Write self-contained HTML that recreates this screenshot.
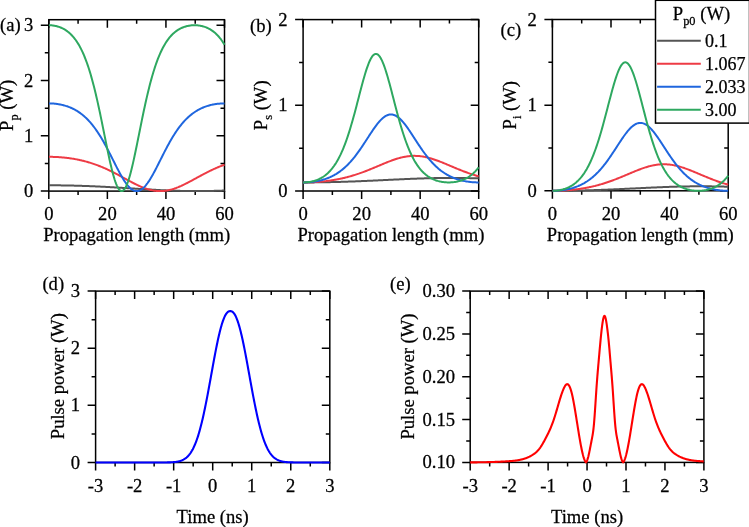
<!DOCTYPE html>
<html><head><meta charset="utf-8"><style>
html,body{margin:0;padding:0;background:#fff;}
svg{display:block;will-change:transform;}
text{font-family:"Liberation Serif", serif;fill:#000;stroke:#000;stroke-width:0.25px;}
</style></head><body>
<svg width="749" height="527" viewBox="0 0 749 527">
<rect width="749" height="527" fill="#fff"/>
<clipPath id="clipa"><rect x="48.8" y="16.7" width="177.2" height="175.9"/></clipPath>
<rect x="48.8" y="19.7" width="175.70" height="171.40" fill="none" stroke="#000" stroke-width="1.5"/>
<path d="M48.80,191.1v8M48.80,19.7v8M107.37,191.1v8M107.37,19.7v8M165.93,191.1v8M165.93,19.7v8M224.50,191.1v8M224.50,19.7v8M78.08,191.1v4M78.08,19.7v4M136.65,191.1v4M136.65,19.7v4M195.22,191.1v4M195.22,19.7v4M48.8,191.10h-8M224.5,191.10h-8M48.8,135.81h-8M224.5,135.81h-8M48.8,80.52h-8M224.5,80.52h-8M48.8,25.23h-8M224.5,25.23h-8M48.8,163.45h-4M224.5,163.45h-4M48.8,108.16h-4M224.5,108.16h-4M48.8,52.87h-4M224.5,52.87h-4" stroke="#000" stroke-width="1.5" fill="none"/>
<polyline points="48.80,185.29 49.53,185.29 50.26,185.30 51.00,185.30 51.73,185.30 52.46,185.30 53.19,185.30 53.92,185.31 54.66,185.31 55.39,185.32 56.12,185.32 56.85,185.33 57.58,185.33 58.32,185.34 59.05,185.35 59.78,185.36 60.51,185.37 61.25,185.38 61.98,185.39 62.71,185.40 63.44,185.41 64.17,185.42 64.91,185.43 65.64,185.44 66.37,185.46 67.10,185.47 67.83,185.48 68.57,185.50 69.30,185.51 70.03,185.53 70.76,185.55 71.49,185.56 72.23,185.58 72.96,185.60 73.69,185.62 74.42,185.64 75.16,185.65 75.89,185.67 76.62,185.70 77.35,185.72 78.08,185.74 78.82,185.76 79.55,185.78 80.28,185.81 81.01,185.83 81.74,185.85 82.48,185.88 83.21,185.90 83.94,185.93 84.67,185.96 85.40,185.98 86.14,186.01 86.87,186.04 87.60,186.07 88.33,186.09 89.06,186.12 89.80,186.15 90.53,186.18 91.26,186.21 91.99,186.24 92.72,186.28 93.46,186.31 94.19,186.34 94.92,186.37 95.65,186.41 96.39,186.44 97.12,186.47 97.85,186.51 98.58,186.54 99.31,186.58 100.05,186.61 100.78,186.65 101.51,186.69 102.24,186.72 102.97,186.76 103.71,186.80 104.44,186.83 105.17,186.87 105.90,186.91 106.63,186.95 107.37,186.99 108.10,187.03 108.83,187.07 109.56,187.11 110.29,187.15 111.03,187.19 111.76,187.23 112.49,187.27 113.22,187.31 113.96,187.36 114.69,187.40 115.42,187.44 116.15,187.48 116.88,187.53 117.62,187.57 118.35,187.61 119.08,187.66 119.81,187.70 120.54,187.75 121.28,187.79 122.01,187.83 122.74,187.88 123.47,187.92 124.20,187.97 124.94,188.01 125.67,188.06 126.40,188.10 127.13,188.15 127.86,188.19 128.60,188.24 129.33,188.28 130.06,188.33 130.79,188.38 131.53,188.42 132.26,188.47 132.99,188.51 133.72,188.56 134.45,188.60 135.19,188.65 135.92,188.69 136.65,188.74 137.38,188.79 138.11,188.83 138.85,188.88 139.58,188.92 140.31,188.97 141.04,189.01 141.77,189.06 142.51,189.10 143.24,189.14 143.97,189.19 144.70,189.23 145.44,189.28 146.17,189.32 146.90,189.36 147.63,189.41 148.36,189.45 149.10,189.49 149.83,189.53 150.56,189.58 151.29,189.62 152.02,189.66 152.76,189.70 153.49,189.74 154.22,189.78 154.95,189.82 155.68,189.86 156.42,189.90 157.15,189.94 157.88,189.98 158.61,190.02 159.34,190.05 160.08,190.09 160.81,190.13 161.54,190.16 162.27,190.20 163.00,190.23 163.74,190.27 164.47,190.30 165.20,190.33 165.93,190.37 166.67,190.40 167.40,190.43 168.13,190.46 168.86,190.49 169.59,190.52 170.33,190.55 171.06,190.58 171.79,190.61 172.52,190.63 173.25,190.66 173.99,190.69 174.72,190.71 175.45,190.73 176.18,190.76 176.91,190.78 177.65,190.80 178.38,190.82 179.11,190.85 179.84,190.87 180.57,190.88 181.31,190.90 182.04,190.92 182.77,190.94 183.50,190.95 184.24,190.97 184.97,190.98 185.70,191.00 186.43,191.01 187.16,191.02 187.90,191.03 188.63,191.04 189.36,191.05 190.09,191.06 190.82,191.07 191.56,191.08 192.29,191.08 193.02,191.09 193.75,191.09 194.48,191.09 195.22,191.10 195.95,191.10 196.68,191.10 197.41,191.10 198.14,191.10 198.88,191.10 199.61,191.10 200.34,191.09 201.07,191.09 201.81,191.08 202.54,191.08 203.27,191.07 204.00,191.06 204.73,191.05 205.47,191.04 206.20,191.03 206.93,191.02 207.66,191.01 208.39,191.00 209.13,190.99 209.86,190.97 210.59,190.96 211.32,190.94 212.05,190.92 212.79,190.91 213.52,190.89 214.25,190.87 214.98,190.85 215.71,190.83 216.45,190.81 217.18,190.79 217.91,190.76 218.64,190.74 219.38,190.72 220.11,190.69 220.84,190.67 221.57,190.64 222.30,190.61 223.04,190.59 223.77,190.56 224.50,190.53" fill="none" stroke="#555555" stroke-width="2.0" stroke-linejoin="round" clip-path="url(#clipa)"/>
<polyline points="48.80,156.82 49.53,156.82 50.26,156.83 51.00,156.84 51.73,156.85 52.46,156.86 53.19,156.88 53.92,156.90 54.66,156.93 55.39,156.96 56.12,156.99 56.85,157.03 57.58,157.07 58.32,157.11 59.05,157.15 59.78,157.20 60.51,157.26 61.25,157.32 61.98,157.38 62.71,157.44 63.44,157.51 64.17,157.58 64.91,157.65 65.64,157.73 66.37,157.82 67.10,157.90 67.83,157.99 68.57,158.09 69.30,158.19 70.03,158.29 70.76,158.39 71.49,158.50 72.23,158.62 72.96,158.74 73.69,158.86 74.42,158.98 75.16,159.11 75.89,159.25 76.62,159.39 77.35,159.53 78.08,159.68 78.82,159.83 79.55,159.99 80.28,160.15 81.01,160.31 81.74,160.48 82.48,160.66 83.21,160.83 83.94,161.02 84.67,161.21 85.40,161.40 86.14,161.60 86.87,161.80 87.60,162.01 88.33,162.22 89.06,162.43 89.80,162.66 90.53,162.88 91.26,163.11 91.99,163.35 92.72,163.59 93.46,163.84 94.19,164.09 94.92,164.35 95.65,164.61 96.39,164.87 97.12,165.14 97.85,165.42 98.58,165.70 99.31,165.99 100.05,166.28 100.78,166.58 101.51,166.88 102.24,167.18 102.97,167.49 103.71,167.81 104.44,168.13 105.17,168.45 105.90,168.78 106.63,169.12 107.37,169.46 108.10,169.80 108.83,170.15 109.56,170.50 110.29,170.85 111.03,171.21 111.76,171.58 112.49,171.94 113.22,172.31 113.96,172.69 114.69,173.06 115.42,173.44 116.15,173.83 116.88,174.21 117.62,174.60 118.35,174.99 119.08,175.38 119.81,175.78 120.54,176.17 121.28,176.57 122.01,176.97 122.74,177.37 123.47,177.77 124.20,178.17 124.94,178.57 125.67,178.97 126.40,179.37 127.13,179.77 127.86,180.16 128.60,180.56 129.33,180.95 130.06,181.34 130.79,181.73 131.53,182.12 132.26,182.50 132.99,182.88 133.72,183.26 134.45,183.63 135.19,183.99 135.92,184.35 136.65,184.71 137.38,185.06 138.11,185.40 138.85,185.74 139.58,186.07 140.31,186.39 141.04,186.71 141.77,187.01 142.51,187.31 143.24,187.60 143.97,187.88 144.70,188.15 145.44,188.41 146.17,188.66 146.90,188.90 147.63,189.12 148.36,189.34 149.10,189.55 149.83,189.74 150.56,189.92 151.29,190.09 152.02,190.25 152.76,190.39 153.49,190.52 154.22,190.64 154.95,190.75 155.68,190.84 156.42,190.92 157.15,190.98 157.88,191.03 158.61,191.07 159.34,191.09 160.08,191.10 160.81,191.09 161.54,191.08 162.27,191.04 163.00,191.00 163.74,190.94 164.47,190.86 165.20,190.77 165.93,190.67 166.67,190.56 167.40,190.43 168.13,190.29 168.86,190.14 169.59,189.97 170.33,189.79 171.06,189.60 171.79,189.40 172.52,189.19 173.25,188.96 173.99,188.73 174.72,188.48 175.45,188.22 176.18,187.96 176.91,187.68 177.65,187.39 178.38,187.10 179.11,186.79 179.84,186.48 180.57,186.16 181.31,185.84 182.04,185.50 182.77,185.16 183.50,184.81 184.24,184.46 184.97,184.10 185.70,183.73 186.43,183.36 187.16,182.99 187.90,182.61 188.63,182.23 189.36,181.84 190.09,181.46 190.82,181.07 191.56,180.67 192.29,180.28 193.02,179.88 193.75,179.48 194.48,179.08 195.22,178.68 195.95,178.28 196.68,177.88 197.41,177.48 198.14,177.08 198.88,176.68 199.61,176.29 200.34,175.89 201.07,175.50 201.81,175.10 202.54,174.71 203.27,174.32 204.00,173.94 204.73,173.55 205.47,173.17 206.20,172.79 206.93,172.42 207.66,172.05 208.39,171.68 209.13,171.32 209.86,170.96 210.59,170.60 211.32,170.25 212.05,169.90 212.79,169.55 213.52,169.21 214.25,168.88 214.98,168.55 215.71,168.22 216.45,167.90 217.18,167.58 217.91,167.27 218.64,166.96 219.38,166.66 220.11,166.36 220.84,166.07 221.57,165.78 222.30,165.50 223.04,165.22 223.77,164.95 224.50,164.68" fill="none" stroke="#ee3b45" stroke-width="2.0" stroke-linejoin="round" clip-path="url(#clipa)"/>
<polyline points="48.80,103.41 49.53,103.41 50.26,103.43 51.00,103.45 51.73,103.48 52.46,103.52 53.19,103.57 53.92,103.62 54.66,103.69 55.39,103.76 56.12,103.85 56.85,103.94 57.58,104.04 58.32,104.16 59.05,104.28 59.78,104.41 60.51,104.55 61.25,104.71 61.98,104.87 62.71,105.04 63.44,105.23 64.17,105.42 64.91,105.63 65.64,105.85 66.37,106.08 67.10,106.32 67.83,106.57 68.57,106.84 69.30,107.12 70.03,107.41 70.76,107.72 71.49,108.04 72.23,108.38 72.96,108.73 73.69,109.10 74.42,109.48 75.16,109.88 75.89,110.29 76.62,110.72 77.35,111.17 78.08,111.64 78.82,112.12 79.55,112.62 80.28,113.15 81.01,113.69 81.74,114.25 82.48,114.83 83.21,115.43 83.94,116.06 84.67,116.70 85.40,117.37 86.14,118.06 86.87,118.77 87.60,119.51 88.33,120.27 89.06,121.06 89.80,121.87 90.53,122.70 91.26,123.56 91.99,124.45 92.72,125.36 93.46,126.29 94.19,127.25 94.92,128.24 95.65,129.26 96.39,130.30 97.12,131.37 97.85,132.46 98.58,133.58 99.31,134.72 100.05,135.89 100.78,137.09 101.51,138.31 102.24,139.55 102.97,140.82 103.71,142.11 104.44,143.42 105.17,144.75 105.90,146.10 106.63,147.47 107.37,148.85 108.10,150.25 108.83,151.67 109.56,153.10 110.29,154.53 111.03,155.98 111.76,157.43 112.49,158.89 113.22,160.35 113.96,161.81 114.69,163.27 115.42,164.72 116.15,166.16 116.88,167.59 117.62,169.01 118.35,170.41 119.08,171.80 119.81,173.15 120.54,174.49 121.28,175.79 122.01,177.06 122.74,178.29 123.47,179.49 124.20,180.64 124.94,181.75 125.67,182.80 126.40,183.81 127.13,184.76 127.86,185.66 128.60,186.49 129.33,187.26 130.06,187.97 130.79,188.61 131.53,189.18 132.26,189.68 132.99,190.10 133.72,190.46 134.45,190.73 135.19,190.93 135.92,191.05 136.65,191.10 137.38,191.07 138.11,190.96 138.85,190.77 139.58,190.51 140.31,190.17 141.04,189.76 141.77,189.27 142.51,188.71 143.24,188.09 143.97,187.39 144.70,186.63 145.44,185.81 146.17,184.93 146.90,183.98 147.63,182.99 148.36,181.94 149.10,180.84 149.83,179.69 150.56,178.51 151.29,177.28 152.02,176.02 152.76,174.72 153.49,173.39 154.22,172.04 154.95,170.66 155.68,169.26 156.42,167.85 157.15,166.42 157.88,164.97 158.61,163.52 159.34,162.07 160.08,160.61 160.81,159.15 161.54,157.69 162.27,156.24 163.00,154.79 163.74,153.35 164.47,151.92 165.20,150.50 165.93,149.10 166.67,147.71 167.40,146.34 168.13,144.98 168.86,143.65 169.59,142.33 170.33,141.04 171.06,139.77 171.79,138.52 172.52,137.30 173.25,136.10 173.99,134.93 174.72,133.78 175.45,132.65 176.18,131.56 176.91,130.49 177.65,129.44 178.38,128.42 179.11,127.43 179.84,126.46 180.57,125.52 181.31,124.60 182.04,123.71 182.77,122.85 183.50,122.01 184.24,121.20 184.97,120.41 185.70,119.64 186.43,118.90 187.16,118.19 187.90,117.49 188.63,116.82 189.36,116.17 190.09,115.54 190.82,114.94 191.56,114.35 192.29,113.78 193.02,113.24 193.75,112.71 194.48,112.21 195.22,111.72 195.95,111.25 196.68,110.80 197.41,110.37 198.14,109.95 198.88,109.55 199.61,109.16 200.34,108.79 201.07,108.44 201.81,108.10 202.54,107.78 203.27,107.47 204.00,107.17 204.73,106.89 205.47,106.62 206.20,106.36 206.93,106.12 207.66,105.89 208.39,105.67 209.13,105.46 209.86,105.26 210.59,105.07 211.32,104.90 212.05,104.73 212.79,104.58 213.52,104.44 214.25,104.30 214.98,104.18 215.71,104.06 216.45,103.96 217.18,103.86 217.91,103.78 218.64,103.70 219.38,103.63 220.11,103.58 220.84,103.53 221.57,103.49 222.30,103.45 223.04,103.43 223.77,103.42 224.50,103.41" fill="none" stroke="#1f66de" stroke-width="2.0" stroke-linejoin="round" clip-path="url(#clipa)"/>
<polyline points="48.80,25.23 49.53,25.24 50.26,25.26 51.00,25.30 51.73,25.36 52.46,25.44 53.19,25.53 53.92,25.64 54.66,25.76 55.39,25.91 56.12,26.07 56.85,26.25 57.58,26.45 58.32,26.67 59.05,26.91 59.78,27.17 60.51,27.46 61.25,27.76 61.98,28.09 62.71,28.45 63.44,28.82 64.17,29.23 64.91,29.66 65.64,30.12 66.37,30.61 67.10,31.13 67.83,31.68 68.57,32.27 69.30,32.88 70.03,33.54 70.76,34.23 71.49,34.96 72.23,35.74 72.96,36.55 73.69,37.41 74.42,38.32 75.16,39.27 75.89,40.28 76.62,41.34 77.35,42.45 78.08,43.61 78.82,44.84 79.55,46.12 80.28,47.47 81.01,48.88 81.74,50.36 82.48,51.91 83.21,53.53 83.94,55.23 84.67,57.00 85.40,58.84 86.14,60.77 86.87,62.78 87.60,64.87 88.33,67.04 89.06,69.30 89.80,71.64 90.53,74.08 91.26,76.60 91.99,79.20 92.72,81.90 93.46,84.68 94.19,87.55 94.92,90.51 95.65,93.55 96.39,96.66 97.12,99.86 97.85,103.13 98.58,106.46 99.31,109.87 100.05,113.33 100.78,116.84 101.51,120.40 102.24,123.99 102.97,127.62 103.71,131.26 104.44,134.91 105.17,138.55 105.90,142.19 106.63,145.79 107.37,149.36 108.10,152.87 108.83,156.32 109.56,159.68 110.29,162.95 111.03,166.10 111.76,169.13 112.49,172.02 113.22,174.76 113.96,177.32 114.69,179.70 115.42,181.88 116.15,183.86 116.88,185.62 117.62,187.14 118.35,188.43 119.08,189.47 119.81,190.26 120.54,190.79 121.28,191.06 122.01,191.07 122.74,190.82 123.47,190.30 124.20,189.53 124.94,188.50 125.67,187.23 126.40,185.72 127.13,183.97 127.86,182.01 128.60,179.84 129.33,177.47 130.06,174.92 130.79,172.19 131.53,169.31 132.26,166.29 132.99,163.14 133.72,159.88 134.45,156.52 135.19,153.08 135.92,149.57 136.65,146.01 137.38,142.41 138.11,138.77 138.85,135.13 139.58,131.48 140.31,127.84 141.04,124.21 141.77,120.61 142.51,117.05 143.24,113.54 143.97,110.07 144.70,106.67 145.44,103.33 146.17,100.05 146.90,96.85 147.63,93.73 148.36,90.69 149.10,87.73 149.83,84.86 150.56,82.07 151.29,79.37 152.02,76.75 152.76,74.23 153.49,71.79 154.22,69.44 154.95,67.17 155.68,65.00 156.42,62.90 157.15,60.89 157.88,58.96 158.61,57.11 159.34,55.33 160.08,53.63 160.81,52.01 161.54,50.46 162.27,48.97 163.00,47.56 163.74,46.20 164.47,44.91 165.20,43.69 165.93,42.52 166.67,41.40 167.40,40.34 168.13,39.33 168.86,38.38 169.59,37.47 170.33,36.60 171.06,35.79 171.79,35.01 172.52,34.28 173.25,33.58 173.99,32.92 174.72,32.30 175.45,31.71 176.18,31.16 176.91,30.64 177.65,30.15 178.38,29.69 179.11,29.25 179.84,28.85 180.57,28.47 181.31,28.11 182.04,27.78 182.77,27.48 183.50,27.19 184.24,26.93 184.97,26.69 185.70,26.46 186.43,26.26 187.16,26.08 187.90,25.92 188.63,25.77 189.36,25.64 190.09,25.53 190.82,25.44 191.56,25.36 192.29,25.31 193.02,25.26 193.75,25.24 194.48,25.23 195.22,25.24 195.95,25.26 196.68,25.30 197.41,25.36 198.14,25.43 198.88,25.52 199.61,25.63 200.34,25.75 201.07,25.90 201.81,26.06 202.54,26.24 203.27,26.44 204.00,26.66 204.73,26.90 205.47,27.16 206.20,27.44 206.93,27.74 207.66,28.07 208.39,28.42 209.13,28.80 209.86,29.20 210.59,29.63 211.32,30.09 212.05,30.58 212.79,31.10 213.52,31.65 214.25,32.23 214.98,32.85 215.71,33.50 216.45,34.19 217.18,34.92 217.91,35.69 218.64,36.50 219.38,37.36 220.11,38.26 220.84,39.22 221.57,40.22 222.30,41.27 223.04,42.38 223.77,43.54 224.50,44.76" fill="none" stroke="#2ea860" stroke-width="2.0" stroke-linejoin="round" clip-path="url(#clipa)"/>
<text transform="translate(48.80,219.80) scale(1.034,1)" font-size="18" text-anchor="middle">0</text>
<text transform="translate(107.37,219.80) scale(1.034,1)" font-size="18" text-anchor="middle">20</text>
<text transform="translate(165.93,219.80) scale(1.034,1)" font-size="18" text-anchor="middle">40</text>
<text transform="translate(224.50,219.80) scale(1.034,1)" font-size="18" text-anchor="middle">60</text>
<text transform="translate(33.20,197.10) scale(1.034,1)" font-size="18" text-anchor="end">0</text>
<text transform="translate(33.20,141.81) scale(1.034,1)" font-size="18" text-anchor="end">1</text>
<text transform="translate(33.20,86.52) scale(1.034,1)" font-size="18" text-anchor="end">2</text>
<text transform="translate(33.20,31.23) scale(1.034,1)" font-size="18" text-anchor="end">3</text>
<text transform="translate(136.65,240.80) scale(1.034,1)" font-size="18" text-anchor="middle">Propagation length (mm)</text>
<clipPath id="clipb"><rect x="303.1" y="16.6" width="177.09999999999997" height="175.9"/></clipPath>
<rect x="303.1" y="19.6" width="175.60" height="171.40" fill="none" stroke="#000" stroke-width="1.5"/>
<path d="M303.10,191.0v8M303.10,19.6v8M361.63,191.0v8M361.63,19.6v8M420.17,191.0v8M420.17,19.6v8M478.70,191.0v8M478.70,19.6v8M332.37,191.0v4M332.37,19.6v4M390.90,191.0v4M390.90,19.6v4M449.43,191.0v4M449.43,19.6v4M303.1,191.00h-8M478.7,191.00h-8M303.1,105.30h-8M478.7,105.30h-8M303.1,19.60h-8M478.7,19.60h-8M303.1,148.15h-4M478.7,148.15h-4M303.1,62.45h-4M478.7,62.45h-4" stroke="#000" stroke-width="1.5" fill="none"/>
<polyline points="303.10,182.43 303.83,182.43 304.56,182.43 305.30,182.43 306.03,182.43 306.76,182.42 307.49,182.42 308.22,182.42 308.95,182.42 309.69,182.41 310.42,182.41 311.15,182.40 311.88,182.40 312.61,182.39 313.34,182.39 314.08,182.38 314.81,182.37 315.54,182.37 316.27,182.36 317.00,182.35 317.73,182.34 318.47,182.33 319.20,182.32 319.93,182.32 320.66,182.31 321.39,182.29 322.12,182.28 322.86,182.27 323.59,182.26 324.32,182.25 325.05,182.24 325.78,182.22 326.51,182.21 327.25,182.19 327.98,182.18 328.71,182.17 329.44,182.15 330.17,182.14 330.90,182.12 331.63,182.10 332.37,182.09 333.10,182.07 333.83,182.05 334.56,182.03 335.29,182.02 336.03,182.00 336.76,181.98 337.49,181.96 338.22,181.94 338.95,181.92 339.68,181.90 340.42,181.88 341.15,181.85 341.88,181.83 342.61,181.81 343.34,181.79 344.07,181.76 344.81,181.74 345.54,181.72 346.27,181.69 347.00,181.67 347.73,181.65 348.46,181.62 349.19,181.59 349.93,181.57 350.66,181.54 351.39,181.52 352.12,181.49 352.85,181.46 353.59,181.44 354.32,181.41 355.05,181.38 355.78,181.35 356.51,181.32 357.24,181.30 357.98,181.27 358.71,181.24 359.44,181.21 360.17,181.18 360.90,181.15 361.63,181.12 362.37,181.09 363.10,181.05 363.83,181.02 364.56,180.99 365.29,180.96 366.02,180.93 366.75,180.90 367.49,180.86 368.22,180.83 368.95,180.80 369.68,180.77 370.41,180.73 371.14,180.70 371.88,180.67 372.61,180.63 373.34,180.60 374.07,180.56 374.80,180.53 375.54,180.50 376.27,180.46 377.00,180.43 377.73,180.39 378.46,180.36 379.19,180.32 379.93,180.29 380.66,180.25 381.39,180.22 382.12,180.18 382.85,180.15 383.58,180.11 384.31,180.08 385.05,180.04 385.78,180.01 386.51,179.97 387.24,179.94 387.97,179.90 388.70,179.87 389.44,179.83 390.17,179.79 390.90,179.76 391.63,179.72 392.36,179.69 393.10,179.65 393.83,179.62 394.56,179.58 395.29,179.55 396.02,179.51 396.75,179.48 397.49,179.45 398.22,179.41 398.95,179.38 399.68,179.34 400.41,179.31 401.14,179.28 401.88,179.24 402.61,179.21 403.34,179.18 404.07,179.14 404.80,179.11 405.53,179.08 406.26,179.05 407.00,179.01 407.73,178.98 408.46,178.95 409.19,178.92 409.92,178.89 410.66,178.86 411.39,178.83 412.12,178.80 412.85,178.77 413.58,178.74 414.31,178.71 415.04,178.69 415.78,178.66 416.51,178.63 417.24,178.60 417.97,178.58 418.70,178.55 419.44,178.52 420.17,178.50 420.90,178.47 421.63,178.45 422.36,178.43 423.09,178.40 423.82,178.38 424.56,178.36 425.29,178.33 426.02,178.31 426.75,178.29 427.48,178.27 428.22,178.25 428.95,178.23 429.68,178.21 430.41,178.20 431.14,178.18 431.87,178.16 432.61,178.14 433.34,178.13 434.07,178.11 434.80,178.10 435.53,178.08 436.26,178.07 437.00,178.06 437.73,178.04 438.46,178.03 439.19,178.02 439.92,178.01 440.65,178.00 441.38,177.99 442.12,177.98 442.85,177.98 443.58,177.97 444.31,177.96 445.04,177.96 445.77,177.95 446.51,177.95 447.24,177.94 447.97,177.94 448.70,177.94 449.43,177.93 450.16,177.93 450.90,177.93 451.63,177.93 452.36,177.93 453.09,177.93 453.82,177.93 454.56,177.94 455.29,177.94 456.02,177.94 456.75,177.95 457.48,177.95 458.21,177.96 458.94,177.97 459.68,177.97 460.41,177.98 461.14,177.99 461.87,178.00 462.60,178.01 463.33,178.02 464.07,178.03 464.80,178.04 465.53,178.05 466.26,178.07 466.99,178.08 467.73,178.09 468.46,178.11 469.19,178.12 469.92,178.14 470.65,178.16 471.38,178.17 472.12,178.19 472.85,178.21 473.58,178.23 474.31,178.25 475.04,178.27 475.77,178.29 476.50,178.31 477.24,178.33 477.97,178.35 478.70,178.37" fill="none" stroke="#555555" stroke-width="2.0" stroke-linejoin="round" clip-path="url(#clipb)"/>
<polyline points="303.10,182.43 303.83,182.43 304.56,182.42 305.30,182.42 306.03,182.41 306.76,182.40 307.49,182.38 308.22,182.37 308.95,182.35 309.69,182.32 310.42,182.30 311.15,182.27 311.88,182.24 312.61,182.21 313.34,182.17 314.08,182.13 314.81,182.09 315.54,182.05 316.27,182.00 317.00,181.95 317.73,181.90 318.47,181.84 319.20,181.78 319.93,181.72 320.66,181.66 321.39,181.59 322.12,181.52 322.86,181.45 323.59,181.37 324.32,181.29 325.05,181.21 325.78,181.13 326.51,181.04 327.25,180.95 327.98,180.85 328.71,180.75 329.44,180.65 330.17,180.55 330.90,180.44 331.63,180.33 332.37,180.22 333.10,180.10 333.83,179.98 334.56,179.85 335.29,179.72 336.03,179.59 336.76,179.46 337.49,179.32 338.22,179.18 338.95,179.03 339.68,178.88 340.42,178.73 341.15,178.57 341.88,178.41 342.61,178.25 343.34,178.08 344.07,177.91 344.81,177.73 345.54,177.55 346.27,177.37 347.00,177.18 347.73,176.99 348.46,176.80 349.19,176.60 349.93,176.40 350.66,176.19 351.39,175.98 352.12,175.76 352.85,175.55 353.59,175.32 354.32,175.10 355.05,174.87 355.78,174.64 356.51,174.40 357.24,174.16 357.98,173.91 358.71,173.67 359.44,173.41 360.17,173.16 360.90,172.90 361.63,172.64 362.37,172.37 363.10,172.10 363.83,171.83 364.56,171.55 365.29,171.28 366.02,170.99 366.75,170.71 367.49,170.42 368.22,170.13 368.95,169.84 369.68,169.55 370.41,169.25 371.14,168.95 371.88,168.65 372.61,168.35 373.34,168.04 374.07,167.74 374.80,167.43 375.54,167.12 376.27,166.82 377.00,166.51 377.73,166.20 378.46,165.89 379.19,165.58 379.93,165.27 380.66,164.96 381.39,164.65 382.12,164.34 382.85,164.03 383.58,163.73 384.31,163.42 385.05,163.12 385.78,162.82 386.51,162.53 387.24,162.23 387.97,161.94 388.70,161.65 389.44,161.37 390.17,161.09 390.90,160.82 391.63,160.54 392.36,160.28 393.10,160.02 393.83,159.76 394.56,159.51 395.29,159.27 396.02,159.03 396.75,158.80 397.49,158.58 398.22,158.36 398.95,158.15 399.68,157.95 400.41,157.76 401.14,157.57 401.88,157.39 402.61,157.23 403.34,157.07 404.07,156.92 404.80,156.78 405.53,156.64 406.26,156.52 407.00,156.41 407.73,156.31 408.46,156.22 409.19,156.14 409.92,156.07 410.66,156.01 411.39,155.96 412.12,155.92 412.85,155.89 413.58,155.87 414.31,155.86 415.04,155.87 415.78,155.88 416.51,155.91 417.24,155.94 417.97,155.99 418.70,156.05 419.44,156.12 420.17,156.19 420.90,156.28 421.63,156.38 422.36,156.49 423.09,156.61 423.82,156.74 424.56,156.88 425.29,157.02 426.02,157.18 426.75,157.34 427.48,157.52 428.22,157.70 428.95,157.89 429.68,158.09 430.41,158.30 431.14,158.51 431.87,158.74 432.61,158.96 433.34,159.20 434.07,159.44 434.80,159.69 435.53,159.94 436.26,160.20 437.00,160.47 437.73,160.74 438.46,161.01 439.19,161.29 439.92,161.57 440.65,161.86 441.38,162.15 442.12,162.44 442.85,162.74 443.58,163.04 444.31,163.34 445.04,163.64 445.77,163.94 446.51,164.25 447.24,164.56 447.97,164.87 448.70,165.18 449.43,165.49 450.16,165.80 450.90,166.11 451.63,166.42 452.36,166.73 453.09,167.04 453.82,167.34 454.56,167.65 455.29,167.96 456.02,168.26 456.75,168.56 457.48,168.87 458.21,169.16 458.94,169.46 459.68,169.76 460.41,170.05 461.14,170.34 461.87,170.63 462.60,170.91 463.33,171.20 464.07,171.47 464.80,171.75 465.53,172.02 466.26,172.29 466.99,172.56 467.73,172.82 468.46,173.08 469.19,173.34 469.92,173.59 470.65,173.84 471.38,174.09 472.12,174.33 472.85,174.57 473.58,174.80 474.31,175.03 475.04,175.26 475.77,175.48 476.50,175.70 477.24,175.92 477.97,176.13 478.70,176.34" fill="none" stroke="#ee3b45" stroke-width="2.0" stroke-linejoin="round" clip-path="url(#clipb)"/>
<polyline points="303.10,182.43 303.83,182.43 304.56,182.42 305.30,182.40 306.03,182.38 306.76,182.35 307.49,182.31 308.22,182.26 308.95,182.21 309.69,182.15 310.42,182.09 311.15,182.02 311.88,181.94 312.61,181.85 313.34,181.76 314.08,181.65 314.81,181.54 315.54,181.43 316.27,181.30 317.00,181.17 317.73,181.02 318.47,180.87 319.20,180.71 319.93,180.54 320.66,180.36 321.39,180.18 322.12,179.98 322.86,179.77 323.59,179.55 324.32,179.33 325.05,179.09 325.78,178.84 326.51,178.58 327.25,178.31 327.98,178.02 328.71,177.73 329.44,177.42 330.17,177.10 330.90,176.76 331.63,176.42 332.37,176.05 333.10,175.68 333.83,175.29 334.56,174.88 335.29,174.46 336.03,174.03 336.76,173.58 337.49,173.11 338.22,172.63 338.95,172.13 339.68,171.61 340.42,171.08 341.15,170.52 341.88,169.95 342.61,169.36 343.34,168.75 344.07,168.13 344.81,167.48 345.54,166.81 346.27,166.13 347.00,165.42 347.73,164.70 348.46,163.95 349.19,163.18 349.93,162.40 350.66,161.59 351.39,160.76 352.12,159.92 352.85,159.05 353.59,158.16 354.32,157.26 355.05,156.33 355.78,155.38 356.51,154.42 357.24,153.44 357.98,152.44 358.71,151.43 359.44,150.39 360.17,149.35 360.90,148.29 361.63,147.21 362.37,146.13 363.10,145.03 363.83,143.92 364.56,142.81 365.29,141.69 366.02,140.56 366.75,139.43 367.49,138.30 368.22,137.17 368.95,136.04 369.68,134.92 370.41,133.80 371.14,132.69 371.88,131.59 372.61,130.50 373.34,129.43 374.07,128.38 374.80,127.35 375.54,126.34 376.27,125.35 377.00,124.40 377.73,123.47 378.46,122.58 379.19,121.72 379.93,120.90 380.66,120.12 381.39,119.38 382.12,118.69 382.85,118.04 383.58,117.44 384.31,116.90 385.05,116.40 385.78,115.96 386.51,115.57 387.24,115.24 387.97,114.97 388.70,114.76 389.44,114.60 390.17,114.51 390.90,114.47 391.63,114.49 392.36,114.58 393.10,114.72 393.83,114.93 394.56,115.19 395.29,115.51 396.02,115.89 396.75,116.32 397.49,116.80 398.22,117.34 398.95,117.93 399.68,118.57 400.41,119.26 401.14,119.99 401.88,120.76 402.61,121.57 403.34,122.42 404.07,123.31 404.80,124.23 405.53,125.18 406.26,126.16 407.00,127.17 407.73,128.19 408.46,129.24 409.19,130.31 409.92,131.39 410.66,132.49 411.39,133.60 412.12,134.72 412.85,135.84 413.58,136.97 414.31,138.10 415.04,139.23 415.78,140.36 416.51,141.49 417.24,142.61 417.97,143.73 418.70,144.84 419.44,145.93 420.17,147.02 420.90,148.10 421.63,149.16 422.36,150.21 423.09,151.24 423.82,152.26 424.56,153.26 425.29,154.25 426.02,155.22 426.75,156.16 427.48,157.09 428.22,158.00 428.95,158.89 429.68,159.77 430.41,160.62 431.14,161.45 431.87,162.26 432.61,163.05 433.34,163.82 434.07,164.57 434.80,165.30 435.53,166.00 436.26,166.69 437.00,167.36 437.73,168.01 438.46,168.64 439.19,169.26 439.92,169.85 440.65,170.42 441.38,170.98 442.12,171.52 442.85,172.04 443.58,172.54 444.31,173.03 445.04,173.50 445.77,173.95 446.51,174.39 447.24,174.81 447.97,175.22 448.70,175.61 449.43,175.99 450.16,176.35 450.90,176.70 451.63,177.04 452.36,177.36 453.09,177.67 453.82,177.97 454.56,178.26 455.29,178.53 456.02,178.79 456.75,179.04 457.48,179.29 458.21,179.51 458.94,179.73 459.68,179.94 460.41,180.14 461.14,180.33 461.87,180.51 462.60,180.68 463.33,180.84 464.07,181.00 464.80,181.14 465.53,181.28 466.26,181.40 466.99,181.52 467.73,181.63 468.46,181.74 469.19,181.83 469.92,181.92 470.65,182.00 471.38,182.08 472.12,182.14 472.85,182.20 473.58,182.26 474.31,182.30 475.04,182.34 475.77,182.37 476.50,182.40 477.24,182.41 477.97,182.43 478.70,182.43" fill="none" stroke="#1f66de" stroke-width="2.0" stroke-linejoin="round" clip-path="url(#clipb)"/>
<polyline points="303.10,182.43 303.83,182.42 304.56,182.40 305.30,182.37 306.03,182.33 306.76,182.27 307.49,182.20 308.22,182.11 308.95,182.02 309.69,181.90 310.42,181.78 311.15,181.64 311.88,181.48 312.61,181.31 313.34,181.13 314.08,180.92 314.81,180.70 315.54,180.47 316.27,180.21 317.00,179.94 317.73,179.64 318.47,179.33 319.20,179.00 319.93,178.64 320.66,178.26 321.39,177.86 322.12,177.43 322.86,176.98 323.59,176.50 324.32,175.99 325.05,175.45 325.78,174.88 326.51,174.29 327.25,173.65 327.98,172.99 328.71,172.28 329.44,171.54 330.17,170.77 330.90,169.95 331.63,169.09 332.37,168.18 333.10,167.23 333.83,166.24 334.56,165.19 335.29,164.10 336.03,162.95 336.76,161.75 337.49,160.49 338.22,159.18 338.95,157.81 339.68,156.38 340.42,154.89 341.15,153.33 341.88,151.71 342.61,150.03 343.34,148.28 344.07,146.46 344.81,144.57 345.54,142.62 346.27,140.60 347.00,138.51 347.73,136.35 348.46,134.13 349.19,131.84 349.93,129.49 350.66,127.07 351.39,124.59 352.12,122.06 352.85,119.47 353.59,116.84 354.32,114.15 355.05,111.43 355.78,108.67 356.51,105.89 357.24,103.08 357.98,100.26 358.71,97.43 359.44,94.60 360.17,91.79 360.90,88.99 361.63,86.23 362.37,83.51 363.10,80.84 363.83,78.23 364.56,75.70 365.29,73.25 366.02,70.90 366.75,68.67 367.49,66.55 368.22,64.56 368.95,62.71 369.68,61.02 370.41,59.49 371.14,58.13 371.88,56.95 372.61,55.95 373.34,55.14 374.07,54.53 374.80,54.12 375.54,53.91 376.27,53.90 377.00,54.10 377.73,54.50 378.46,55.10 379.19,55.89 379.93,56.88 380.66,58.05 381.39,59.40 382.12,60.92 382.85,62.61 383.58,64.44 384.31,66.42 385.05,68.53 385.78,70.77 386.51,73.11 387.24,75.55 387.97,78.07 388.70,80.68 389.44,83.34 390.17,86.06 390.90,88.83 391.63,91.62 392.36,94.43 393.10,97.26 393.83,100.09 394.56,102.91 395.29,105.72 396.02,108.51 396.75,111.27 397.49,113.99 398.22,116.68 398.95,119.31 399.68,121.90 400.41,124.44 401.14,126.92 401.88,129.34 402.61,131.70 403.34,133.99 404.07,136.22 404.80,138.38 405.53,140.47 406.26,142.50 407.00,144.46 407.73,146.35 408.46,148.17 409.19,149.92 409.92,151.61 410.66,153.23 411.39,154.79 412.12,156.29 412.85,157.72 413.58,159.10 414.31,160.42 415.04,161.67 415.78,162.88 416.51,164.03 417.24,165.13 417.97,166.17 418.70,167.17 419.44,168.13 420.17,169.03 420.90,169.90 421.63,170.72 422.36,171.50 423.09,172.24 423.82,172.95 424.56,173.61 425.29,174.25 426.02,174.85 426.75,175.42 427.48,175.96 428.22,176.47 428.95,176.95 429.68,177.40 430.41,177.83 431.14,178.24 431.87,178.62 432.61,178.97 433.34,179.31 434.07,179.63 434.80,179.92 435.53,180.19 436.26,180.45 437.00,180.69 437.73,180.91 438.46,181.11 439.19,181.30 439.92,181.47 440.65,181.63 441.38,181.77 442.12,181.90 442.85,182.01 443.58,182.11 444.31,182.19 445.04,182.27 445.77,182.32 446.51,182.37 447.24,182.40 447.97,182.42 448.70,182.43 449.43,182.42 450.16,182.41 450.90,182.37 451.63,182.33 452.36,182.27 453.09,182.20 453.82,182.12 454.56,182.02 455.29,181.91 456.02,181.79 456.75,181.65 457.48,181.49 458.21,181.32 458.94,181.14 459.68,180.94 460.41,180.72 461.14,180.48 461.87,180.23 462.60,179.95 463.33,179.66 464.07,179.35 464.80,179.02 465.53,178.66 466.26,178.28 466.99,177.88 467.73,177.46 468.46,177.01 469.19,176.53 469.92,176.02 470.65,175.49 471.38,174.92 472.12,174.32 472.85,173.69 473.58,173.03 474.31,172.33 475.04,171.59 475.77,170.81 476.50,170.00 477.24,169.14 477.97,168.24 478.70,167.29" fill="none" stroke="#2ea860" stroke-width="2.0" stroke-linejoin="round" clip-path="url(#clipb)"/>
<text transform="translate(303.10,219.80) scale(1.034,1)" font-size="18" text-anchor="middle">0</text>
<text transform="translate(361.63,219.80) scale(1.034,1)" font-size="18" text-anchor="middle">20</text>
<text transform="translate(420.17,219.80) scale(1.034,1)" font-size="18" text-anchor="middle">40</text>
<text transform="translate(478.70,219.80) scale(1.034,1)" font-size="18" text-anchor="middle">60</text>
<text transform="translate(287.50,197.00) scale(1.034,1)" font-size="18" text-anchor="end">0</text>
<text transform="translate(287.50,111.30) scale(1.034,1)" font-size="18" text-anchor="end">1</text>
<text transform="translate(287.50,25.60) scale(1.034,1)" font-size="18" text-anchor="end">2</text>
<text transform="translate(390.90,240.80) scale(1.034,1)" font-size="18" text-anchor="middle">Propagation length (mm)</text>
<clipPath id="clipc"><rect x="552.4" y="16.5" width="177.30000000000007" height="175.8"/></clipPath>
<rect x="552.4" y="19.5" width="175.80" height="171.30" fill="none" stroke="#000" stroke-width="1.5"/>
<path d="M552.40,190.8v8M552.40,19.5v8M611.00,190.8v8M611.00,19.5v8M669.60,190.8v8M669.60,19.5v8M728.20,190.8v8M728.20,19.5v8M581.70,190.8v4M581.70,19.5v4M640.30,190.8v4M640.30,19.5v4M698.90,190.8v4M698.90,19.5v4M552.4,190.80h-8M728.2,190.80h-8M552.4,105.15h-8M728.2,105.15h-8M552.4,19.50h-8M728.2,19.50h-8M552.4,147.98h-4M728.2,147.98h-4M552.4,62.32h-4M728.2,62.32h-4" stroke="#000" stroke-width="1.5" fill="none"/>
<polyline points="552.40,190.80 553.13,190.80 553.87,190.80 554.60,190.80 555.33,190.80 556.06,190.79 556.79,190.79 557.53,190.79 558.26,190.79 558.99,190.78 559.73,190.78 560.46,190.77 561.19,190.77 561.92,190.76 562.65,190.76 563.39,190.75 564.12,190.74 564.85,190.74 565.59,190.73 566.32,190.72 567.05,190.71 567.78,190.70 568.51,190.70 569.25,190.69 569.98,190.68 570.71,190.66 571.44,190.65 572.18,190.64 572.91,190.63 573.64,190.62 574.38,190.61 575.11,190.59 575.84,190.58 576.57,190.57 577.30,190.55 578.04,190.54 578.77,190.52 579.50,190.51 580.24,190.49 580.97,190.47 581.70,190.46 582.43,190.44 583.16,190.42 583.90,190.40 584.63,190.39 585.36,190.37 586.10,190.35 586.83,190.33 587.56,190.31 588.29,190.29 589.02,190.27 589.76,190.25 590.49,190.22 591.22,190.20 591.96,190.18 592.69,190.16 593.42,190.14 594.15,190.11 594.88,190.09 595.62,190.06 596.35,190.04 597.08,190.02 597.82,189.99 598.55,189.97 599.28,189.94 600.01,189.91 600.75,189.89 601.48,189.86 602.21,189.83 602.94,189.81 603.67,189.78 604.41,189.75 605.14,189.72 605.87,189.69 606.61,189.67 607.34,189.64 608.07,189.61 608.80,189.58 609.53,189.55 610.27,189.52 611.00,189.49 611.73,189.46 612.47,189.43 613.20,189.39 613.93,189.36 614.66,189.33 615.39,189.30 616.13,189.27 616.86,189.24 617.59,189.20 618.33,189.17 619.06,189.14 619.79,189.10 620.52,189.07 621.25,189.04 621.99,189.00 622.72,188.97 623.45,188.94 624.18,188.90 624.92,188.87 625.65,188.83 626.38,188.80 627.12,188.76 627.85,188.73 628.58,188.69 629.31,188.66 630.04,188.62 630.78,188.59 631.51,188.55 632.24,188.52 632.98,188.48 633.71,188.45 634.44,188.41 635.17,188.38 635.90,188.34 636.64,188.31 637.37,188.27 638.10,188.24 638.84,188.20 639.57,188.17 640.30,188.13 641.03,188.10 641.76,188.06 642.50,188.03 643.23,187.99 643.96,187.96 644.70,187.92 645.43,187.89 646.16,187.85 646.89,187.82 647.62,187.78 648.36,187.75 649.09,187.72 649.82,187.68 650.56,187.65 651.29,187.61 652.02,187.58 652.75,187.55 653.49,187.52 654.22,187.48 654.95,187.45 655.68,187.42 656.41,187.39 657.15,187.36 657.88,187.32 658.61,187.29 659.35,187.26 660.08,187.23 660.81,187.20 661.54,187.17 662.27,187.14 663.01,187.11 663.74,187.09 664.47,187.06 665.21,187.03 665.94,187.00 666.67,186.98 667.40,186.95 668.13,186.92 668.87,186.90 669.60,186.87 670.33,186.85 671.07,186.82 671.80,186.80 672.53,186.77 673.26,186.75 674.00,186.73 674.73,186.71 675.46,186.69 676.19,186.66 676.93,186.64 677.66,186.62 678.39,186.61 679.12,186.59 679.86,186.57 680.59,186.55 681.32,186.53 682.05,186.52 682.79,186.50 683.52,186.49 684.25,186.47 684.98,186.46 685.72,186.44 686.45,186.43 687.18,186.42 687.91,186.41 688.64,186.39 689.38,186.38 690.11,186.37 690.84,186.36 691.58,186.36 692.31,186.35 693.04,186.34 693.77,186.33 694.50,186.33 695.24,186.32 695.97,186.32 696.70,186.31 697.44,186.31 698.17,186.31 698.90,186.31 699.63,186.30 700.37,186.30 701.10,186.30 701.83,186.30 702.56,186.31 703.30,186.31 704.03,186.31 704.76,186.31 705.49,186.32 706.23,186.32 706.96,186.33 707.69,186.33 708.42,186.34 709.16,186.35 709.89,186.35 710.62,186.36 711.35,186.37 712.09,186.38 712.82,186.39 713.55,186.40 714.28,186.41 715.02,186.43 715.75,186.44 716.48,186.45 717.21,186.47 717.95,186.48 718.68,186.50 719.41,186.51 720.14,186.53 720.88,186.55 721.61,186.56 722.34,186.58 723.07,186.60 723.81,186.62 724.54,186.64 725.27,186.66 726.00,186.68 726.74,186.70 727.47,186.72 728.20,186.75" fill="none" stroke="#555555" stroke-width="2.0" stroke-linejoin="round" clip-path="url(#clipc)"/>
<polyline points="552.40,190.80 553.13,190.80 553.87,190.79 554.60,190.79 555.33,190.78 556.06,190.77 556.79,190.75 557.53,190.74 558.26,190.72 558.99,190.69 559.73,190.67 560.46,190.64 561.19,190.61 561.92,190.58 562.65,190.54 563.39,190.50 564.12,190.46 564.85,190.42 565.59,190.37 566.32,190.32 567.05,190.27 567.78,190.21 568.51,190.15 569.25,190.09 569.98,190.03 570.71,189.96 571.44,189.89 572.18,189.82 572.91,189.74 573.64,189.66 574.38,189.58 575.11,189.50 575.84,189.41 576.57,189.32 577.30,189.22 578.04,189.12 578.77,189.02 579.50,188.92 580.24,188.81 580.97,188.70 581.70,188.59 582.43,188.47 583.16,188.35 583.90,188.22 584.63,188.10 585.36,187.96 586.10,187.83 586.83,187.69 587.56,187.55 588.29,187.40 589.02,187.25 589.76,187.10 590.49,186.94 591.22,186.78 591.96,186.62 592.69,186.45 593.42,186.28 594.15,186.10 594.88,185.93 595.62,185.74 596.35,185.56 597.08,185.36 597.82,185.17 598.55,184.97 599.28,184.77 600.01,184.56 600.75,184.35 601.48,184.14 602.21,183.92 602.94,183.70 603.67,183.47 604.41,183.24 605.14,183.01 605.87,182.77 606.61,182.53 607.34,182.29 608.07,182.04 608.80,181.79 609.53,181.53 610.27,181.27 611.00,181.01 611.73,180.75 612.47,180.48 613.20,180.21 613.93,179.93 614.66,179.65 615.39,179.37 616.13,179.09 616.86,178.80 617.59,178.51 618.33,178.22 619.06,177.92 619.79,177.63 620.52,177.33 621.25,177.03 621.99,176.73 622.72,176.42 623.45,176.12 624.18,175.81 624.92,175.50 625.65,175.19 626.38,174.89 627.12,174.58 627.85,174.27 628.58,173.96 629.31,173.65 630.04,173.34 630.78,173.03 631.51,172.72 632.24,172.41 632.98,172.11 633.71,171.80 634.44,171.50 635.17,171.20 635.90,170.91 636.64,170.61 637.37,170.32 638.10,170.04 638.84,169.75 639.57,169.47 640.30,169.20 641.03,168.93 641.76,168.66 642.50,168.40 643.23,168.15 643.96,167.90 644.70,167.65 645.43,167.42 646.16,167.18 646.89,166.96 647.62,166.74 648.36,166.54 649.09,166.33 649.82,166.14 650.56,165.96 651.29,165.78 652.02,165.61 652.75,165.45 653.49,165.30 654.22,165.16 654.95,165.03 655.68,164.91 656.41,164.80 657.15,164.69 657.88,164.60 658.61,164.52 659.35,164.45 660.08,164.39 660.81,164.34 661.54,164.30 662.27,164.27 663.01,164.26 663.74,164.25 664.47,164.25 665.21,164.27 665.94,164.29 666.67,164.33 667.40,164.38 668.13,164.43 668.87,164.50 669.60,164.58 670.33,164.67 671.07,164.77 671.80,164.87 672.53,164.99 673.26,165.12 674.00,165.26 674.73,165.41 675.46,165.56 676.19,165.73 676.93,165.90 677.66,166.09 678.39,166.28 679.12,166.48 679.86,166.68 680.59,166.90 681.32,167.12 682.05,167.35 682.79,167.58 683.52,167.82 684.25,168.07 684.98,168.33 685.72,168.59 686.45,168.85 687.18,169.12 687.91,169.39 688.64,169.67 689.38,169.95 690.11,170.24 690.84,170.53 691.58,170.82 692.31,171.12 693.04,171.42 693.77,171.72 694.50,172.02 695.24,172.33 695.97,172.63 696.70,172.94 697.44,173.25 698.17,173.56 698.90,173.87 699.63,174.18 700.37,174.49 701.10,174.80 701.83,175.11 702.56,175.41 703.30,175.72 704.03,176.03 704.76,176.34 705.49,176.64 706.23,176.94 706.96,177.24 707.69,177.54 708.42,177.84 709.16,178.13 709.89,178.43 710.62,178.72 711.35,179.01 712.09,179.29 712.82,179.57 713.55,179.85 714.28,180.13 715.02,180.40 715.75,180.67 716.48,180.94 717.21,181.20 717.95,181.46 718.68,181.72 719.41,181.97 720.14,182.22 720.88,182.46 721.61,182.70 722.34,182.94 723.07,183.18 723.81,183.41 724.54,183.63 725.27,183.86 726.00,184.08 726.74,184.29 727.47,184.50 728.20,184.71" fill="none" stroke="#ee3b45" stroke-width="2.0" stroke-linejoin="round" clip-path="url(#clipc)"/>
<polyline points="552.40,190.80 553.13,190.80 553.87,190.79 554.60,190.77 555.33,190.75 556.06,190.72 556.79,190.68 557.53,190.63 558.26,190.58 558.99,190.53 559.73,190.46 560.46,190.39 561.19,190.31 561.92,190.22 562.65,190.13 563.39,190.02 564.12,189.91 564.85,189.80 565.59,189.67 566.32,189.54 567.05,189.39 567.78,189.24 568.51,189.08 569.25,188.91 569.98,188.73 570.71,188.55 571.44,188.35 572.18,188.14 572.91,187.93 573.64,187.70 574.38,187.46 575.11,187.21 575.84,186.95 576.57,186.68 577.30,186.39 578.04,186.10 578.77,185.79 579.50,185.47 580.24,185.14 580.97,184.79 581.70,184.43 582.43,184.05 583.16,183.66 583.90,183.26 584.63,182.84 585.36,182.40 586.10,181.95 586.83,181.49 587.56,181.00 588.29,180.50 589.02,179.99 589.76,179.45 590.49,178.90 591.22,178.33 591.96,177.74 592.69,177.13 593.42,176.50 594.15,175.86 594.88,175.19 595.62,174.51 596.35,173.80 597.08,173.08 597.82,172.33 598.55,171.57 599.28,170.78 600.01,169.97 600.75,169.15 601.48,168.30 602.21,167.43 602.94,166.55 603.67,165.64 604.41,164.71 605.14,163.77 605.87,162.81 606.61,161.83 607.34,160.83 608.07,159.81 608.80,158.78 609.53,157.74 610.27,156.68 611.00,155.60 611.73,154.52 612.47,153.42 613.20,152.32 613.93,151.20 614.66,150.08 615.39,148.96 616.13,147.83 616.86,146.70 617.59,145.57 618.33,144.44 619.06,143.31 619.79,142.20 620.52,141.09 621.25,139.99 621.99,138.90 622.72,137.83 623.45,136.78 624.18,135.75 624.92,134.74 625.65,133.76 626.38,132.80 627.12,131.87 627.85,130.98 628.58,130.12 629.31,129.30 630.04,128.52 630.78,127.79 631.51,127.09 632.24,126.45 632.98,125.85 633.71,125.30 634.44,124.81 635.17,124.37 635.90,123.98 636.64,123.65 637.37,123.38 638.10,123.17 638.84,123.01 639.57,122.92 640.30,122.88 641.03,122.90 641.76,122.99 642.50,123.13 643.23,123.34 643.96,123.60 644.70,123.92 645.43,124.30 646.16,124.73 646.89,125.21 647.62,125.75 648.36,126.34 649.09,126.98 649.82,127.66 650.56,128.39 651.29,129.16 652.02,129.98 652.75,130.83 653.49,131.71 654.22,132.63 654.95,133.58 655.68,134.56 656.41,135.57 657.15,136.60 657.88,137.64 658.61,138.71 659.35,139.79 660.08,140.89 660.81,142.00 661.54,143.12 662.27,144.24 663.01,145.37 663.74,146.50 664.47,147.63 665.21,148.76 665.94,149.88 666.67,151.01 667.40,152.12 668.13,153.23 668.87,154.33 669.60,155.41 670.33,156.49 671.07,157.55 671.80,158.60 672.53,159.63 673.26,160.65 674.00,161.65 674.73,162.64 675.46,163.60 676.19,164.55 676.93,165.48 677.66,166.39 678.39,167.28 679.12,168.15 679.86,169.00 680.59,169.83 681.32,170.64 682.05,171.43 682.79,172.20 683.52,172.95 684.25,173.68 684.98,174.38 685.72,175.07 686.45,175.74 687.18,176.39 687.91,177.02 688.64,177.63 689.38,178.23 690.11,178.80 690.84,179.36 691.58,179.89 692.31,180.41 693.04,180.92 693.77,181.40 694.50,181.87 695.24,182.33 695.97,182.76 696.70,183.19 697.44,183.59 698.17,183.99 698.90,184.36 699.63,184.73 700.37,185.08 701.10,185.41 701.83,185.74 702.56,186.05 703.30,186.34 704.03,186.63 704.76,186.90 705.49,187.17 706.23,187.42 706.96,187.66 707.69,187.89 708.42,188.11 709.16,188.31 709.89,188.51 710.62,188.70 711.35,188.88 712.09,189.05 712.82,189.21 713.55,189.37 714.28,189.51 715.02,189.65 715.75,189.77 716.48,189.89 717.21,190.01 717.95,190.11 718.68,190.20 719.41,190.29 720.14,190.37 720.88,190.45 721.61,190.51 722.34,190.57 723.07,190.63 723.81,190.67 724.54,190.71 725.27,190.74 726.00,190.77 726.74,190.78 727.47,190.80 728.20,190.80" fill="none" stroke="#1f66de" stroke-width="2.0" stroke-linejoin="round" clip-path="url(#clipc)"/>
<polyline points="552.40,190.80 553.13,190.79 553.87,190.77 554.60,190.74 555.33,190.70 556.06,190.64 556.79,190.57 557.53,190.48 558.26,190.39 558.99,190.28 559.73,190.15 560.46,190.01 561.19,189.85 561.92,189.68 562.65,189.50 563.39,189.29 564.12,189.07 564.85,188.84 565.59,188.58 566.32,188.31 567.05,188.02 567.78,187.70 568.51,187.37 569.25,187.01 569.98,186.63 570.71,186.23 571.44,185.80 572.18,185.35 572.91,184.87 573.64,184.36 574.38,183.83 575.11,183.26 575.84,182.66 576.57,182.03 577.30,181.36 578.04,180.66 578.77,179.92 579.50,179.14 580.24,178.32 580.97,177.46 581.70,176.56 582.43,175.61 583.16,174.62 583.90,173.57 584.63,172.48 585.36,171.33 586.10,170.13 586.83,168.88 587.56,167.56 588.29,166.19 589.02,164.76 589.76,163.27 590.49,161.72 591.22,160.10 591.96,158.42 592.69,156.67 593.42,154.85 594.15,152.97 594.88,151.01 595.62,148.99 596.35,146.90 597.08,144.75 597.82,142.53 598.55,140.24 599.28,137.89 600.01,135.47 600.75,133.00 601.48,130.46 602.21,127.88 602.94,125.24 603.67,122.56 604.41,119.84 605.14,117.09 605.87,114.30 606.61,111.50 607.34,108.68 608.07,105.85 608.80,103.02 609.53,100.21 610.27,97.42 611.00,94.66 611.73,91.93 612.47,89.27 613.20,86.66 613.93,84.13 614.66,81.69 615.39,79.34 616.13,77.10 616.86,74.98 617.59,73.00 618.33,71.15 619.06,69.46 619.79,67.93 620.52,66.57 621.25,65.39 621.99,64.39 622.72,63.59 623.45,62.97 624.18,62.56 624.92,62.35 625.65,62.35 626.38,62.54 627.12,62.94 627.85,63.54 628.58,64.34 629.31,65.32 630.04,66.50 630.78,67.84 631.51,69.37 632.24,71.05 632.98,72.88 633.71,74.86 634.44,76.97 635.17,79.20 635.90,81.54 636.64,83.98 637.37,86.51 638.10,89.11 638.84,91.77 639.57,94.49 640.30,97.25 641.03,100.04 641.76,102.85 642.50,105.68 643.23,108.51 643.96,111.33 644.70,114.13 645.43,116.92 646.16,119.68 646.89,122.40 647.62,125.08 648.36,127.72 649.09,130.31 649.82,132.85 650.56,135.32 651.29,137.74 652.02,140.10 652.75,142.39 653.49,144.62 654.22,146.78 654.95,148.87 655.68,150.89 656.41,152.85 657.15,154.74 657.88,156.56 658.61,158.31 659.35,160.00 660.08,161.62 660.81,163.18 661.54,164.68 662.27,166.11 663.01,167.48 663.74,168.80 664.47,170.06 665.21,171.26 665.94,172.41 666.67,173.51 667.40,174.55 668.13,175.55 668.87,176.50 669.60,177.41 670.33,178.27 671.07,179.09 671.80,179.88 672.53,180.62 673.26,181.32 674.00,181.99 674.73,182.62 675.46,183.22 676.19,183.79 676.93,184.33 677.66,184.84 678.39,185.32 679.12,185.78 679.86,186.21 680.59,186.61 681.32,186.99 682.05,187.35 682.79,187.68 683.52,188.00 684.25,188.29 684.98,188.57 685.72,188.82 686.45,189.06 687.18,189.28 687.91,189.48 688.64,189.67 689.38,189.84 690.11,190.00 690.84,190.14 691.58,190.27 692.31,190.38 693.04,190.48 693.77,190.56 694.50,190.64 695.24,190.69 695.97,190.74 696.70,190.77 697.44,190.79 698.17,190.80 698.90,190.79 699.63,190.78 700.37,190.74 701.10,190.70 701.83,190.64 702.56,190.57 703.30,190.49 704.03,190.39 704.76,190.28 705.49,190.16 706.23,190.02 706.96,189.86 707.69,189.69 708.42,189.51 709.16,189.31 709.89,189.09 710.62,188.85 711.35,188.60 712.09,188.33 712.82,188.03 713.55,187.72 714.28,187.39 715.02,187.03 715.75,186.66 716.48,186.26 717.21,185.83 717.95,185.38 718.68,184.90 719.41,184.39 720.14,183.86 720.88,183.29 721.61,182.70 722.34,182.07 723.07,181.40 723.81,180.70 724.54,179.97 725.27,179.19 726.00,178.38 726.74,177.52 727.47,176.62 728.20,175.67" fill="none" stroke="#2ea860" stroke-width="2.0" stroke-linejoin="round" clip-path="url(#clipc)"/>
<text transform="translate(552.40,219.80) scale(1.034,1)" font-size="18" text-anchor="middle">0</text>
<text transform="translate(611.00,219.80) scale(1.034,1)" font-size="18" text-anchor="middle">20</text>
<text transform="translate(669.60,219.80) scale(1.034,1)" font-size="18" text-anchor="middle">40</text>
<text transform="translate(728.20,219.80) scale(1.034,1)" font-size="18" text-anchor="middle">60</text>
<text transform="translate(536.80,196.80) scale(1.034,1)" font-size="18" text-anchor="end">0</text>
<text transform="translate(536.80,111.15) scale(1.034,1)" font-size="18" text-anchor="end">1</text>
<text transform="translate(536.80,25.50) scale(1.034,1)" font-size="18" text-anchor="end">2</text>
<text transform="translate(640.30,240.80) scale(1.034,1)" font-size="18" text-anchor="middle">Propagation length (mm)</text>
<text transform="translate(0.00,30.70) scale(1.034,1)" font-size="18" text-anchor="start">(a)</text>
<text transform="translate(250.00,31.60) scale(1.034,1)" font-size="18" text-anchor="start">(b)</text>
<text transform="translate(500.60,36.40) scale(1.034,1)" font-size="18" text-anchor="start">(c)</text>
<text transform="translate(12.90,105.40) rotate(-90) scale(1.034,1)" font-size="18" text-anchor="middle">P<tspan font-size="12" dy="5">p</tspan><tspan dy="-5"> (W)</tspan></text>
<text transform="translate(267.00,105.30) rotate(-90) scale(1.034,1)" font-size="18" text-anchor="middle">P<tspan font-size="12" dy="5">s</tspan><tspan dy="-5"> (W)</tspan></text>
<text transform="translate(516.20,105.20) rotate(-90) scale(1.034,1)" font-size="18" text-anchor="middle">P<tspan font-size="12" dy="5">i</tspan><tspan dy="-5"> (W)</tspan></text>
<rect x="655.5" y="0.3" width="94.0" height="122.8" fill="#fff" stroke="#000" stroke-width="1.5"/>
<text transform="translate(672.8,19.6) scale(1.034,1)" font-size="18">P<tspan font-size="12" dy="5">p0</tspan><tspan dy="-5"> (W)</tspan></text>
<line x1="657.1" y1="40.80" x2="700.8" y2="40.80" stroke="#555555" stroke-width="2.0"/>
<text transform="translate(705.00,46.80) scale(1.0,1)" font-size="18" text-anchor="start">0.1</text>
<line x1="657.1" y1="63.80" x2="700.8" y2="63.80" stroke="#ee3b45" stroke-width="2.0"/>
<text transform="translate(705.00,69.80) scale(1.0,1)" font-size="18" text-anchor="start">1.067</text>
<line x1="657.1" y1="86.80" x2="700.8" y2="86.80" stroke="#1f66de" stroke-width="2.0"/>
<text transform="translate(705.00,92.80) scale(1.0,1)" font-size="18" text-anchor="start">2.033</text>
<line x1="657.1" y1="109.80" x2="700.8" y2="109.80" stroke="#2ea860" stroke-width="2.0"/>
<text transform="translate(705.00,115.80) scale(1.0,1)" font-size="18" text-anchor="start">3.00</text>
<rect x="95.6" y="291.1" width="234.20" height="171.40" fill="none" stroke="#000" stroke-width="1.5"/>
<path d="M95.60,462.5v8M95.60,291.1v8M134.63,462.5v8M134.63,291.1v8M173.67,462.5v8M173.67,291.1v8M212.70,462.5v8M212.70,291.1v8M251.73,462.5v8M251.73,291.1v8M290.77,462.5v8M290.77,291.1v8M329.80,462.5v8M329.80,291.1v8M115.12,462.5v4M115.12,291.1v4M154.15,462.5v4M154.15,291.1v4M193.18,462.5v4M193.18,291.1v4M232.22,462.5v4M232.22,291.1v4M271.25,462.5v4M271.25,291.1v4M310.28,462.5v4M310.28,291.1v4M95.6,462.50h-8M329.8,462.50h-8M95.6,405.37h-8M329.8,405.37h-8M95.6,348.23h-8M329.8,348.23h-8M95.6,291.10h-8M329.8,291.10h-8M95.6,433.93h-4M329.8,433.93h-4M95.6,376.80h-4M329.8,376.80h-4M95.6,319.67h-4M329.8,319.67h-4" stroke="#000" stroke-width="1.5" fill="none"/>
<polyline points="95.60,462.50 95.99,462.50 96.38,462.50 96.77,462.50 97.16,462.50 97.55,462.50 97.94,462.50 98.33,462.50 98.72,462.50 99.11,462.50 99.50,462.50 99.89,462.50 100.28,462.50 100.67,462.50 101.06,462.50 101.45,462.50 101.85,462.50 102.24,462.50 102.63,462.50 103.02,462.50 103.41,462.50 103.80,462.50 104.19,462.50 104.58,462.50 104.97,462.50 105.36,462.50 105.75,462.50 106.14,462.50 106.53,462.50 106.92,462.50 107.31,462.50 107.70,462.50 108.09,462.50 108.48,462.50 108.87,462.50 109.26,462.50 109.65,462.50 110.04,462.50 110.43,462.50 110.82,462.50 111.21,462.50 111.60,462.50 111.99,462.50 112.38,462.50 112.77,462.50 113.17,462.50 113.56,462.50 113.95,462.50 114.34,462.50 114.73,462.50 115.12,462.50 115.51,462.50 115.90,462.50 116.29,462.50 116.68,462.50 117.07,462.50 117.46,462.50 117.85,462.50 118.24,462.50 118.63,462.50 119.02,462.50 119.41,462.50 119.80,462.50 120.19,462.50 120.58,462.50 120.97,462.50 121.36,462.50 121.75,462.50 122.14,462.50 122.53,462.50 122.92,462.50 123.31,462.50 123.70,462.50 124.09,462.50 124.48,462.50 124.88,462.50 125.27,462.50 125.66,462.50 126.05,462.50 126.44,462.50 126.83,462.50 127.22,462.50 127.61,462.50 128.00,462.50 128.39,462.50 128.78,462.50 129.17,462.50 129.56,462.50 129.95,462.50 130.34,462.50 130.73,462.50 131.12,462.50 131.51,462.50 131.90,462.50 132.29,462.50 132.68,462.50 133.07,462.50 133.46,462.50 133.85,462.50 134.24,462.50 134.63,462.50 135.02,462.50 135.41,462.50 135.80,462.50 136.19,462.50 136.59,462.50 136.98,462.50 137.37,462.50 137.76,462.50 138.15,462.50 138.54,462.50 138.93,462.50 139.32,462.50 139.71,462.50 140.10,462.50 140.49,462.50 140.88,462.50 141.27,462.50 141.66,462.50 142.05,462.50 142.44,462.50 142.83,462.50 143.22,462.50 143.61,462.50 144.00,462.50 144.39,462.50 144.78,462.50 145.17,462.50 145.56,462.50 145.95,462.50 146.34,462.50 146.73,462.50 147.12,462.50 147.51,462.50 147.90,462.50 148.30,462.50 148.69,462.50 149.08,462.50 149.47,462.50 149.86,462.50 150.25,462.50 150.64,462.50 151.03,462.50 151.42,462.50 151.81,462.50 152.20,462.50 152.59,462.50 152.98,462.50 153.37,462.50 153.76,462.50 154.15,462.50 154.54,462.50 154.93,462.50 155.32,462.50 155.71,462.50 156.10,462.50 156.49,462.50 156.88,462.50 157.27,462.50 157.66,462.50 158.05,462.49 158.44,462.49 158.83,462.49 159.22,462.49 159.61,462.49 160.00,462.49 160.40,462.49 160.79,462.49 161.18,462.49 161.57,462.48 161.96,462.48 162.35,462.48 162.74,462.48 163.13,462.48 163.52,462.47 163.91,462.47 164.30,462.47 164.69,462.46 165.08,462.46 165.47,462.45 165.86,462.45 166.25,462.44 166.64,462.44 167.03,462.43 167.42,462.42 167.81,462.41 168.20,462.40 168.59,462.39 168.98,462.38 169.37,462.37 169.76,462.36 170.15,462.34 170.54,462.33 170.93,462.31 171.32,462.29 171.72,462.27 172.11,462.25 172.50,462.22 172.89,462.19 173.28,462.16 173.67,462.13 174.06,462.10 174.45,462.06 174.84,462.02 175.23,461.97 175.62,461.92 176.01,461.87 176.40,461.81 176.79,461.75 177.18,461.69 177.57,461.62 177.96,461.54 178.35,461.46 178.74,461.37 179.13,461.27 179.52,461.17 179.91,461.06 180.30,460.94 180.69,460.81 181.08,460.67 181.47,460.53 181.86,460.37 182.25,460.21 182.64,460.03 183.03,459.84 183.43,459.64 183.82,459.42 184.21,459.19 184.60,458.95 184.99,458.69 185.38,458.42 185.77,458.13 186.16,457.82 186.55,457.50 186.94,457.15 187.33,456.79 187.72,456.40 188.11,456.00 188.50,455.57 188.89,455.12 189.28,454.64 189.67,454.14 190.06,453.62 190.45,453.07 190.84,452.49 191.23,451.88 191.62,451.24 192.01,450.58 192.40,449.88 192.79,449.16 193.18,448.40 193.57,447.61 193.96,446.78 194.35,445.92 194.74,445.03 195.13,444.10 195.53,443.13 195.92,442.13 196.31,441.09 196.70,440.01 197.09,438.89 197.48,437.74 197.87,436.55 198.26,435.31 198.65,434.04 199.04,432.73 199.43,431.38 199.82,429.99 200.21,428.56 200.60,427.09 200.99,425.58 201.38,424.03 201.77,422.44 202.16,420.82 202.55,419.16 202.94,417.46 203.33,415.73 203.72,413.96 204.11,412.15 204.50,410.32 204.89,408.45 205.28,406.55 205.67,404.62 206.06,402.66 206.45,400.68 206.85,398.67 207.24,396.64 207.63,394.58 208.02,392.51 208.41,390.41 208.80,388.30 209.19,386.18 209.58,384.04 209.97,381.90 210.36,379.75 210.75,377.59 211.14,375.42 211.53,373.26 211.92,371.10 212.31,368.94 212.70,366.79 213.09,364.65 213.48,362.52 213.87,360.41 214.26,358.31 214.65,356.23 215.04,354.17 215.43,352.14 215.82,350.13 216.21,348.16 216.60,346.21 216.99,344.30 217.38,342.42 217.77,340.59 218.16,338.79 218.56,337.04 218.95,335.34 219.34,333.68 219.73,332.07 220.12,330.51 220.51,329.00 220.90,327.55 221.29,326.16 221.68,324.82 222.07,323.54 222.46,322.32 222.85,321.17 223.24,320.07 223.63,319.04 224.02,318.07 224.41,317.17 224.80,316.33 225.19,315.55 225.58,314.84 225.97,314.20 226.36,313.61 226.75,313.10 227.14,312.64 227.53,312.25 227.92,311.92 228.31,311.65 228.70,311.43 229.09,311.28 229.48,311.17 229.87,311.11 230.27,311.10 230.66,311.11 231.05,311.17 231.44,311.28 231.83,311.43 232.22,311.65 232.61,311.92 233.00,312.25 233.39,312.64 233.78,313.10 234.17,313.61 234.56,314.20 234.95,314.84 235.34,315.55 235.73,316.33 236.12,317.17 236.51,318.07 236.90,319.04 237.29,320.07 237.68,321.17 238.07,322.32 238.46,323.54 238.85,324.82 239.24,326.16 239.63,327.55 240.02,329.00 240.41,330.51 240.80,332.07 241.19,333.68 241.58,335.34 241.97,337.04 242.37,338.79 242.76,340.59 243.15,342.42 243.54,344.30 243.93,346.21 244.32,348.16 244.71,350.13 245.10,352.14 245.49,354.17 245.88,356.23 246.27,358.31 246.66,360.41 247.05,362.52 247.44,364.65 247.83,366.79 248.22,368.94 248.61,371.10 249.00,373.26 249.39,375.42 249.78,377.59 250.17,379.75 250.56,381.90 250.95,384.04 251.34,386.18 251.73,388.30 252.12,390.41 252.51,392.51 252.90,394.58 253.29,396.64 253.69,398.67 254.08,400.68 254.47,402.66 254.86,404.62 255.25,406.55 255.64,408.45 256.03,410.32 256.42,412.15 256.81,413.96 257.20,415.73 257.59,417.46 257.98,419.16 258.37,420.82 258.76,422.44 259.15,424.03 259.54,425.58 259.93,427.09 260.32,428.56 260.71,429.99 261.10,431.38 261.49,432.73 261.88,434.04 262.27,435.31 262.66,436.55 263.05,437.74 263.44,438.89 263.83,440.01 264.22,441.09 264.61,442.13 265.00,443.13 265.40,444.10 265.79,445.03 266.18,445.92 266.57,446.78 266.96,447.61 267.35,448.40 267.74,449.16 268.13,449.88 268.52,450.58 268.91,451.24 269.30,451.88 269.69,452.49 270.08,453.07 270.47,453.62 270.86,454.14 271.25,454.64 271.64,455.12 272.03,455.57 272.42,456.00 272.81,456.40 273.20,456.79 273.59,457.15 273.98,457.50 274.37,457.82 274.76,458.13 275.15,458.42 275.54,458.69 275.93,458.95 276.32,459.19 276.71,459.42 277.11,459.64 277.50,459.84 277.89,460.03 278.28,460.21 278.67,460.37 279.06,460.53 279.45,460.67 279.84,460.81 280.23,460.94 280.62,461.06 281.01,461.17 281.40,461.27 281.79,461.37 282.18,461.46 282.57,461.54 282.96,461.62 283.35,461.69 283.74,461.75 284.13,461.81 284.52,461.87 284.91,461.92 285.30,461.97 285.69,462.02 286.08,462.06 286.47,462.10 286.86,462.13 287.25,462.16 287.64,462.19 288.03,462.22 288.42,462.25 288.82,462.27 289.21,462.29 289.60,462.31 289.99,462.33 290.38,462.34 290.77,462.36 291.16,462.37 291.55,462.38 291.94,462.39 292.33,462.40 292.72,462.41 293.11,462.42 293.50,462.43 293.89,462.44 294.28,462.44 294.67,462.45 295.06,462.45 295.45,462.46 295.84,462.46 296.23,462.47 296.62,462.47 297.01,462.47 297.40,462.48 297.79,462.48 298.18,462.48 298.57,462.48 298.96,462.48 299.35,462.49 299.74,462.49 300.13,462.49 300.52,462.49 300.92,462.49 301.31,462.49 301.70,462.49 302.09,462.49 302.48,462.49 302.87,462.50 303.26,462.50 303.65,462.50 304.04,462.50 304.43,462.50 304.82,462.50 305.21,462.50 305.60,462.50 305.99,462.50 306.38,462.50 306.77,462.50 307.16,462.50 307.55,462.50 307.94,462.50 308.33,462.50 308.72,462.50 309.11,462.50 309.50,462.50 309.89,462.50 310.28,462.50 310.67,462.50 311.06,462.50 311.45,462.50 311.84,462.50 312.24,462.50 312.63,462.50 313.02,462.50 313.41,462.50 313.80,462.50 314.19,462.50 314.58,462.50 314.97,462.50 315.36,462.50 315.75,462.50 316.14,462.50 316.53,462.50 316.92,462.50 317.31,462.50 317.70,462.50 318.09,462.50 318.48,462.50 318.87,462.50 319.26,462.50 319.65,462.50 320.04,462.50 320.43,462.50 320.82,462.50 321.21,462.50 321.60,462.50 321.99,462.50 322.38,462.50 322.77,462.50 323.16,462.50 323.55,462.50 323.95,462.50 324.34,462.50 324.73,462.50 325.12,462.50 325.51,462.50 325.90,462.50 326.29,462.50 326.68,462.50 327.07,462.50 327.46,462.50 327.85,462.50 328.24,462.50 328.63,462.50 329.02,462.50 329.41,462.50 329.80,462.50" fill="none" stroke="#0000ff" stroke-width="2.1" stroke-linejoin="round"/>
<text transform="translate(95.60,491.50) scale(1.034,1)" font-size="18" text-anchor="middle">-3</text>
<text transform="translate(134.63,491.50) scale(1.034,1)" font-size="18" text-anchor="middle">-2</text>
<text transform="translate(173.67,491.50) scale(1.034,1)" font-size="18" text-anchor="middle">-1</text>
<text transform="translate(212.70,491.50) scale(1.034,1)" font-size="18" text-anchor="middle">0</text>
<text transform="translate(251.73,491.50) scale(1.034,1)" font-size="18" text-anchor="middle">1</text>
<text transform="translate(290.77,491.50) scale(1.034,1)" font-size="18" text-anchor="middle">2</text>
<text transform="translate(329.80,491.50) scale(1.034,1)" font-size="18" text-anchor="middle">3</text>
<text transform="translate(80.00,468.50) scale(1.034,1)" font-size="18" text-anchor="end">0</text>
<text transform="translate(80.00,411.37) scale(1.034,1)" font-size="18" text-anchor="end">1</text>
<text transform="translate(80.00,354.23) scale(1.034,1)" font-size="18" text-anchor="end">2</text>
<text transform="translate(80.00,297.10) scale(1.034,1)" font-size="18" text-anchor="end">3</text>
<text transform="translate(212.70,522.90) scale(1.034,1)" font-size="18" text-anchor="middle">Time (ns)</text>
<text transform="translate(63.6,376.2) rotate(-90) scale(1.034,1)" font-size="18" text-anchor="middle">Pulse power (W)</text>
<text transform="translate(42.40,290.00) scale(1.034,1)" font-size="18" text-anchor="start">(d)</text>
<rect x="470.2" y="291.1" width="233.70" height="171.30" fill="none" stroke="#000" stroke-width="1.5"/>
<path d="M470.20,462.4v8M470.20,291.1v8M509.15,462.4v8M509.15,291.1v8M548.10,462.4v8M548.10,291.1v8M587.05,462.4v8M587.05,291.1v8M626.00,462.4v8M626.00,291.1v8M664.95,462.4v8M664.95,291.1v8M703.90,462.4v8M703.90,291.1v8M489.68,462.4v4M489.68,291.1v4M528.62,462.4v4M528.62,291.1v4M567.58,462.4v4M567.58,291.1v4M606.52,462.4v4M606.52,291.1v4M645.47,462.4v4M645.47,291.1v4M684.42,462.4v4M684.42,291.1v4M470.2,462.40h-8M703.9,462.40h-8M470.2,419.57h-8M703.9,419.57h-8M470.2,376.75h-8M703.9,376.75h-8M470.2,333.93h-8M703.9,333.93h-8M470.2,291.10h-8M703.9,291.10h-8M470.2,440.99h-4M703.9,440.99h-4M470.2,398.16h-4M703.9,398.16h-4M470.2,355.34h-4M703.9,355.34h-4M470.2,312.51h-4M703.9,312.51h-4" stroke="#000" stroke-width="1.5" fill="none"/>
<polyline points="470.20,462.35 470.59,462.35 470.97,462.35 471.36,462.35 471.75,462.35 472.13,462.35 472.52,462.35 472.91,462.35 473.30,462.35 473.68,462.35 474.07,462.35 474.46,462.34 474.84,462.34 475.23,462.34 475.62,462.34 476.00,462.33 476.39,462.33 476.78,462.33 477.17,462.33 477.55,462.32 477.94,462.32 478.33,462.32 478.71,462.31 479.10,462.31 479.49,462.30 479.87,462.30 480.26,462.29 480.65,462.29 481.03,462.28 481.42,462.28 481.81,462.27 482.20,462.27 482.58,462.26 482.97,462.25 483.36,462.25 483.74,462.24 484.13,462.23 484.52,462.22 484.90,462.22 485.29,462.21 485.68,462.20 486.07,462.19 486.45,462.18 486.84,462.17 487.23,462.16 487.61,462.16 488.00,462.15 488.39,462.14 488.77,462.13 489.16,462.11 489.55,462.10 489.93,462.09 490.32,462.08 490.71,462.07 491.10,462.06 491.48,462.05 491.87,462.03 492.26,462.02 492.64,462.01 493.03,461.99 493.42,461.98 493.80,461.97 494.19,461.95 494.58,461.94 494.97,461.92 495.35,461.91 495.74,461.89 496.13,461.88 496.51,461.86 496.90,461.85 497.29,461.83 497.67,461.81 498.06,461.80 498.45,461.78 498.83,461.76 499.22,461.74 499.61,461.73 500.00,461.71 500.38,461.69 500.77,461.67 501.16,461.65 501.54,461.63 501.93,461.61 502.32,461.59 502.70,461.57 503.09,461.55 503.48,461.53 503.87,461.51 504.25,461.48 504.64,461.46 505.03,461.44 505.41,461.42 505.80,461.39 506.19,461.37 506.57,461.35 506.96,461.32 507.35,461.30 507.73,461.27 508.12,461.25 508.51,461.22 508.90,461.20 509.28,461.17 509.67,461.14 510.06,461.12 510.44,461.09 510.83,461.06 511.22,461.03 511.60,460.99 511.99,460.96 512.38,460.93 512.77,460.89 513.15,460.85 513.54,460.82 513.93,460.78 514.31,460.73 514.70,460.69 515.09,460.64 515.47,460.59 515.86,460.54 516.25,460.49 516.63,460.44 517.02,460.38 517.41,460.32 517.80,460.25 518.18,460.19 518.57,460.12 518.96,460.05 519.34,459.97 519.73,459.90 520.12,459.82 520.50,459.73 520.89,459.64 521.28,459.55 521.67,459.46 522.05,459.36 522.44,459.26 522.83,459.15 523.21,459.04 523.60,458.93 523.99,458.81 524.37,458.69 524.76,458.56 525.15,458.43 525.53,458.29 525.92,458.15 526.31,458.01 526.70,457.85 527.08,457.70 527.47,457.54 527.86,457.37 528.24,457.20 528.63,457.03 529.02,456.84 529.40,456.66 529.79,456.46 530.18,456.27 530.57,456.06 530.95,455.85 531.34,455.63 531.73,455.41 532.11,455.18 532.50,454.95 532.89,454.70 533.27,454.45 533.66,454.18 534.05,453.91 534.43,453.63 534.82,453.33 535.21,453.02 535.60,452.70 535.98,452.37 536.37,452.02 536.76,451.65 537.14,451.27 537.53,450.87 537.92,450.46 538.30,450.03 538.69,449.57 539.08,449.10 539.47,448.61 539.85,448.10 540.24,447.57 540.63,447.01 541.01,446.43 541.40,445.83 541.79,445.21 542.17,444.58 542.56,443.92 542.95,443.25 543.33,442.57 543.72,441.88 544.11,441.17 544.50,440.46 544.88,439.74 545.27,439.02 545.66,438.29 546.04,437.56 546.43,436.81 546.82,436.06 547.20,435.30 547.59,434.53 547.98,433.75 548.37,432.95 548.75,432.14 549.14,431.31 549.53,430.46 549.91,429.59 550.30,428.71 550.69,427.80 551.07,426.87 551.46,425.91 551.85,424.93 552.23,423.92 552.62,422.89 553.01,421.83 553.40,420.73 553.78,419.61 554.17,418.45 554.56,417.25 554.94,416.03 555.33,414.78 555.72,413.51 556.10,412.22 556.49,410.91 556.88,409.59 557.27,408.26 557.65,406.93 558.04,405.60 558.43,404.27 558.81,402.95 559.20,401.64 559.59,400.35 559.97,399.07 560.36,397.82 560.75,396.60 561.13,395.40 561.52,394.24 561.91,393.12 562.30,392.04 562.68,391.01 563.07,390.02 563.46,389.09 563.84,388.22 564.23,387.41 564.62,386.67 565.00,386.01 565.39,385.44 565.78,384.97 566.17,384.60 566.55,384.33 566.94,384.19 567.33,384.16 567.71,384.25 568.10,384.47 568.49,384.83 568.87,385.31 569.26,385.93 569.65,386.69 570.03,387.59 570.42,388.63 570.81,389.80 571.20,391.11 571.58,392.55 571.97,394.11 572.36,395.79 572.74,397.59 573.13,399.49 573.52,401.48 573.90,403.57 574.29,405.73 574.68,407.96 575.07,410.24 575.45,412.58 575.84,414.96 576.23,417.36 576.61,419.79 577.00,422.23 577.39,424.68 577.77,427.12 578.16,429.54 578.55,431.94 578.93,434.31 579.32,436.63 579.71,438.90 580.10,441.11 580.48,443.25 580.87,445.32 581.26,447.30 581.64,449.20 582.03,451.00 582.42,452.70 582.80,454.29 583.19,455.77 583.58,457.12 583.97,458.35 584.35,459.43 584.74,460.38 585.13,461.18 585.51,461.82 585.90,462.30 586.09,462.20 586.27,462.03 586.46,461.80 586.65,461.50 586.84,461.14 587.02,460.73 587.21,460.26 587.40,459.74 587.59,459.17 587.77,458.55 587.96,457.89 588.15,457.19 588.34,456.45 588.52,455.67 588.71,454.86 588.90,454.03 589.09,453.16 589.27,452.27 589.46,451.36 589.65,450.44 589.84,449.49 590.02,448.54 590.21,447.57 590.40,446.60 590.59,445.62 590.77,444.64 590.96,443.66 591.15,442.68 591.34,441.71 591.52,440.75 591.71,439.81 591.90,438.86 592.09,437.91 592.27,436.92 592.46,435.89 592.65,434.80 592.84,433.63 593.02,432.37 593.21,431.00 593.40,429.50 593.58,427.86 593.77,426.06 593.96,424.08 594.15,421.93 594.33,419.62 594.52,417.17 594.71,414.60 594.90,411.93 595.08,409.17 595.27,406.36 595.46,403.50 595.65,400.63 595.83,397.75 596.02,394.88 596.21,392.06 596.40,389.29 596.58,386.60 596.77,384.00 596.96,381.50 597.15,379.07 597.33,376.71 597.52,374.41 597.71,372.17 597.90,369.96 598.08,367.79 598.27,365.64 598.46,363.51 598.65,361.38 598.83,359.24 599.02,357.11 599.21,354.98 599.40,352.86 599.58,350.76 599.77,348.67 599.96,346.60 600.15,344.56 600.33,342.55 600.52,340.57 600.71,338.63 600.89,336.74 601.08,334.89 601.27,333.10 601.46,331.37 601.64,329.71 601.83,328.11 602.02,326.59 602.21,325.15 602.39,323.79 602.58,322.52 602.77,321.34 602.96,320.27 603.14,319.30 603.33,318.44 603.52,317.70 603.71,317.07 603.89,316.57 604.08,316.20 604.27,315.96 604.46,315.87 604.64,315.92 604.83,316.11 605.02,316.44 605.21,316.90 605.39,317.48 605.58,318.18 605.77,318.99 605.96,319.90 606.14,320.90 606.33,321.99 606.52,323.17 606.71,324.41 606.89,325.73 607.08,327.10 607.27,328.52 607.46,330.00 607.64,331.54 607.83,333.13 608.02,334.78 608.21,336.50 608.39,338.28 608.58,340.13 608.77,342.05 608.95,344.05 609.14,346.11 609.33,348.23 609.52,350.39 609.70,352.59 609.89,354.81 610.08,357.05 610.27,359.28 610.45,361.49 610.64,363.69 610.83,365.86 611.02,368.03 611.20,370.21 611.39,372.40 611.58,374.62 611.77,376.89 611.95,379.21 612.14,381.60 612.33,384.07 612.52,386.63 612.70,389.30 612.89,392.04 613.08,394.85 613.27,397.70 613.45,400.57 613.64,403.44 613.83,406.30 614.02,409.11 614.20,411.87 614.39,414.55 614.58,417.13 614.77,419.58 614.95,421.90 615.14,424.06 615.33,426.04 615.52,427.85 615.70,429.49 615.89,430.99 616.08,432.37 616.26,433.63 616.45,434.80 616.64,435.90 616.83,436.93 617.01,437.91 617.20,438.87 617.39,439.81 617.58,440.76 617.76,441.72 617.95,442.69 618.14,443.66 618.33,444.64 618.51,445.62 618.70,446.60 618.89,447.57 619.08,448.54 619.26,449.50 619.45,450.44 619.64,451.37 619.83,452.27 620.01,453.16 620.20,454.03 620.39,454.86 620.58,455.67 620.76,456.44 620.95,457.18 621.14,457.88 621.33,458.55 621.51,459.16 621.70,459.73 621.89,460.26 622.08,460.73 622.26,461.14 622.45,461.50 622.64,461.80 622.83,462.03 623.01,462.20 623.20,462.30 623.59,461.82 623.97,461.18 624.36,460.38 624.75,459.43 625.13,458.35 625.52,457.12 625.91,455.77 626.30,454.29 626.68,452.70 627.07,451.00 627.46,449.20 627.84,447.30 628.23,445.32 628.62,443.25 629.00,441.11 629.39,438.90 629.78,436.63 630.17,434.31 630.55,431.94 630.94,429.54 631.33,427.12 631.71,424.68 632.10,422.23 632.49,419.79 632.87,417.36 633.26,414.96 633.65,412.58 634.03,410.24 634.42,407.96 634.81,405.73 635.20,403.57 635.58,401.48 635.97,399.49 636.36,397.59 636.74,395.79 637.13,394.11 637.52,392.55 637.90,391.11 638.29,389.80 638.68,388.63 639.07,387.59 639.45,386.69 639.84,385.93 640.23,385.31 640.61,384.83 641.00,384.47 641.39,384.25 641.77,384.16 642.16,384.19 642.55,384.33 642.93,384.60 643.32,384.97 643.71,385.44 644.10,386.01 644.48,386.67 644.87,387.41 645.26,388.22 645.64,389.09 646.03,390.02 646.42,391.01 646.80,392.04 647.19,393.12 647.58,394.24 647.97,395.40 648.35,396.60 648.74,397.82 649.13,399.07 649.51,400.35 649.90,401.64 650.29,402.95 650.67,404.27 651.06,405.60 651.45,406.93 651.83,408.26 652.22,409.59 652.61,410.91 653.00,412.22 653.38,413.51 653.77,414.78 654.16,416.03 654.54,417.25 654.93,418.45 655.32,419.61 655.70,420.73 656.09,421.83 656.48,422.89 656.87,423.92 657.25,424.93 657.64,425.91 658.03,426.87 658.41,427.80 658.80,428.71 659.19,429.59 659.57,430.46 659.96,431.31 660.35,432.14 660.73,432.95 661.12,433.75 661.51,434.53 661.90,435.30 662.28,436.06 662.67,436.81 663.06,437.56 663.44,438.29 663.83,439.02 664.22,439.74 664.60,440.46 664.99,441.17 665.38,441.88 665.77,442.57 666.15,443.25 666.54,443.92 666.93,444.58 667.31,445.21 667.70,445.83 668.09,446.43 668.47,447.01 668.86,447.57 669.25,448.10 669.63,448.61 670.02,449.10 670.41,449.57 670.80,450.03 671.18,450.46 671.57,450.87 671.96,451.27 672.34,451.65 672.73,452.02 673.12,452.37 673.50,452.70 673.89,453.02 674.28,453.33 674.67,453.63 675.05,453.91 675.44,454.18 675.83,454.45 676.21,454.70 676.60,454.95 676.99,455.18 677.37,455.41 677.76,455.63 678.15,455.85 678.53,456.06 678.92,456.27 679.31,456.46 679.70,456.66 680.08,456.84 680.47,457.03 680.86,457.20 681.24,457.37 681.63,457.54 682.02,457.70 682.40,457.85 682.79,458.01 683.18,458.15 683.57,458.29 683.95,458.43 684.34,458.56 684.73,458.69 685.11,458.81 685.50,458.93 685.89,459.04 686.27,459.15 686.66,459.26 687.05,459.36 687.43,459.46 687.82,459.55 688.21,459.64 688.60,459.73 688.98,459.82 689.37,459.90 689.76,459.97 690.14,460.05 690.53,460.12 690.92,460.19 691.30,460.25 691.69,460.32 692.08,460.38 692.47,460.44 692.85,460.49 693.24,460.54 693.63,460.59 694.01,460.64 694.40,460.69 694.79,460.73 695.17,460.78 695.56,460.82 695.95,460.85 696.33,460.89 696.72,460.93 697.11,460.96 697.50,460.99 697.88,461.03 698.27,461.06 698.66,461.09 699.04,461.12 699.43,461.14 699.82,461.17 700.20,461.20 700.59,461.22 700.98,461.25 701.37,461.27 701.75,461.30 702.14,461.32 702.53,461.35 702.91,461.37 703.30,461.39 703.69,461.42" fill="none" stroke="#ff0000" stroke-width="2.1" stroke-linejoin="round"/>
<text transform="translate(470.20,491.50) scale(1.034,1)" font-size="18" text-anchor="middle">-3</text>
<text transform="translate(509.15,491.50) scale(1.034,1)" font-size="18" text-anchor="middle">-2</text>
<text transform="translate(548.10,491.50) scale(1.034,1)" font-size="18" text-anchor="middle">-1</text>
<text transform="translate(587.05,491.50) scale(1.034,1)" font-size="18" text-anchor="middle">0</text>
<text transform="translate(626.00,491.50) scale(1.034,1)" font-size="18" text-anchor="middle">1</text>
<text transform="translate(664.95,491.50) scale(1.034,1)" font-size="18" text-anchor="middle">2</text>
<text transform="translate(703.90,491.50) scale(1.034,1)" font-size="18" text-anchor="middle">3</text>
<text transform="translate(455.00,468.40) scale(1.034,1)" font-size="18" text-anchor="end">0.10</text>
<text transform="translate(455.00,425.57) scale(1.034,1)" font-size="18" text-anchor="end">0.15</text>
<text transform="translate(455.00,382.75) scale(1.034,1)" font-size="18" text-anchor="end">0.20</text>
<text transform="translate(455.00,339.93) scale(1.034,1)" font-size="18" text-anchor="end">0.25</text>
<text transform="translate(455.00,297.10) scale(1.034,1)" font-size="18" text-anchor="end">0.30</text>
<text transform="translate(587.05,522.90) scale(1.034,1)" font-size="18" text-anchor="middle">Time (ns)</text>
<text transform="translate(414.0,376.6) rotate(-90) scale(1.034,1)" font-size="18" text-anchor="middle">Pulse power (W)</text>
<text transform="translate(390.00,289.80) scale(1.034,1)" font-size="18" text-anchor="start">(e)</text>
</svg></body></html>
